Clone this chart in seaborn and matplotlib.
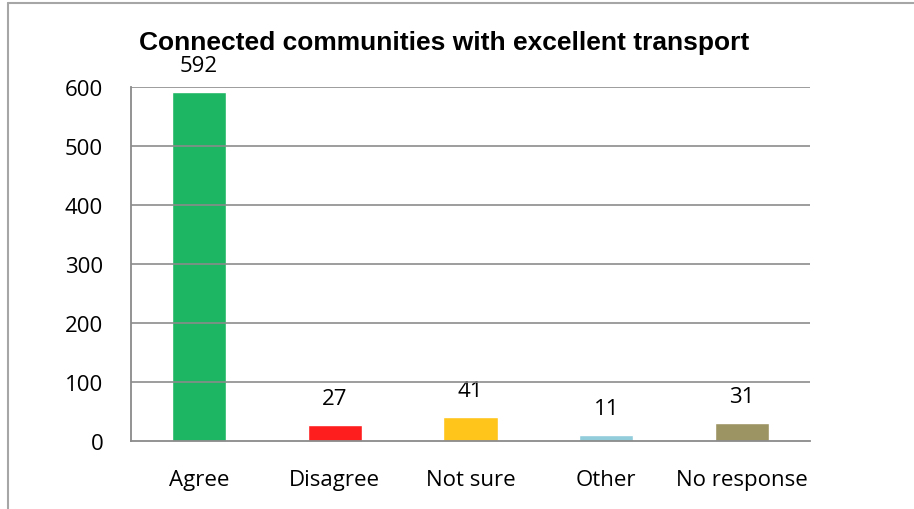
import matplotlib
matplotlib.use("Agg")
import matplotlib.pyplot as plt
import seaborn as sns
import pandas as pd
from matplotlib.lines import Line2D

categories = ["Agree", "Disagree", "Not sure", "Other", "No response"]
values = [592, 27, 41, 11, 31]
colors = ["#1DB763", "#FE1E1E", "#FFC51B", "#92CDDC", "#9C9463"]
title = "Connected communities with excellent transport"
yticks = [0, 100, 200, 300, 400, 500, 600]

sns.set_style("white")
plt.rcParams["font.family"] = ["Open Sans", "DejaVu Sans"]
plt.rcParams["text.color"] = "black"
plt.rcParams["xtick.color"] = "black"
plt.rcParams["ytick.color"] = "black"

df = pd.DataFrame({"cat": categories, "val": values})

fig = plt.figure(figsize=(9.14, 5.10), dpi=100)
ax = fig.add_axes([131/914, 1-442/510, (810-131)/914, (442-88)/510])

sns.barplot(data=df, x="cat", y="val", hue="cat", palette=colors, legend=False,
            width=0.4, ax=ax, saturation=1)

grid_c = "#8A8A8A"
ax.set_ylim(0, 600)
ax.set_xlim(-0.5, len(categories)-0.5)
ax.set_yticks(yticks)
ax.set_yticklabels([str(t) for t in yticks], fontsize=16)
ax.set_xlabel("")
ax.set_ylabel("")
ax.tick_params(axis="x", which="major", length=0, pad=20, labelsize=16, labelcolor="black")
ax.tick_params(axis="y", length=6.5, color=grid_c, width=1, pad=13.5, labelcolor="black")

ax.set_xticks([i - 0.5 for i in range(len(categories)+1)], minor=True)
ax.tick_params(axis="x", which="minor", length=7, color=grid_c, width=1, direction="out")

for y in yticks[1:]:
    ax.axhline(y, color=grid_c, lw=1.3, zorder=5, alpha=0.9)

for s in ["top", "right"]:
    ax.spines[s].set_visible(False)
for s in ["left", "bottom"]:
    ax.spines[s].set_color(grid_c)
    ax.spines[s].set_linewidth(1.3)
    ax.spines[s].set_zorder(6)

for i, v in enumerate(values):
    ax.annotate(str(v), (i, v), xytext=(0, 15), textcoords="offset points",
                ha="center", va="baseline", fontsize=16, color="black")

fig.text(444.5/914, 1-50/510, title, ha="center", va="baseline", color="black",
         fontsize=19, fontweight="bold", family=["Liberation Sans", "DejaVu Sans"])

bc = "#A6A6A6"
fig.add_artist(Line2D([8/914, 8/914], [0, 1-4/510], transform=fig.transFigure,
                      color=bc, lw=1.5))
fig.add_artist(Line2D([8/914, 1], [1-4/510, 1-4/510], transform=fig.transFigure,
                      color=bc, lw=1.5))

fig.savefig("out.png", dpi=100)
